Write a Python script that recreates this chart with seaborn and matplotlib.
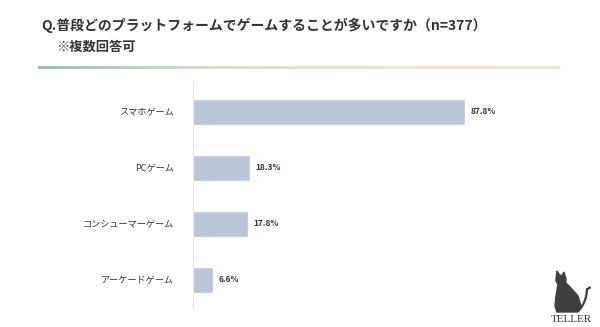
import matplotlib
matplotlib.use("Agg")
import matplotlib.pyplot as plt
import numpy as np
import pandas as pd
import seaborn as sns
from matplotlib.colors import LinearSegmentedColormap
from matplotlib.patches import Polygon, Ellipse

sns.set_theme(style="white")
plt.rcParams['font.family'] = ['Noto Sans CJK JP', 'DejaVu Sans']

categories = ["スマホゲーム", "PCゲーム", "コンシューマーゲーム", "アーケードゲーム"]
values = [87.8, 18.3, 17.8, 6.6]
value_labels = ["87.8%", "18.3%", "17.8%", "6.6%"]
title = "Q.普段どのプラットフォームでゲームすることが多いですか（n=377）"
subtitle = "※複数回答可"

df = pd.DataFrame({"platform": categories, "pct": values})

W, H = 600, 327
fig = plt.figure(figsize=(6, 3.27), dpi=100)
fig.patch.set_facecolor("white")

# overlay axes in pixel coordinates
ov = fig.add_axes([0, 0, 1, 1])
ov.axis("off")

ax = fig.add_axes([193 / W, (H - 308) / H, 310 / W, 224 / H])
sns.barplot(data=df, x="pct", y="platform", orient="h", color="#bac5d7",
            saturation=1, width=0.48, ax=ax)
ax.set_xlim(0, 100)
ax.set_ylim(3.5, -0.5)
ax.set_xlabel("")
ax.set_ylabel("")
ax.set_xticks([])
for s in ["top", "right", "bottom"]:
    ax.spines[s].set_visible(False)
ax.spines["left"].set_color("#e2e2e2")
ax.spines["left"].set_linewidth(0.8)
ax.set_yticks(range(len(categories)))
ax.set_yticklabels(categories, fontsize=6.6, color="#333333")
ax.tick_params(axis="y", which="major", length=0, pad=14)
ax.set_yticks([-0.5, 0.5, 1.5, 2.5, 3.5], minor=True)
ax.tick_params(axis="y", which="minor", length=5, color="#e6e6e6", width=0.8)
ax.set_facecolor("none")

for i, (v, lab) in enumerate(zip(values, value_labels)):
    ax.annotate(lab, xy=(v, i), xytext=(4, 0), textcoords="offset points",
                va="center", ha="left", fontsize=6, color="#333333",
                fontweight="bold")

# titles
ov.text(41, 25, title, fontsize=10, fontweight="bold", color="#333333",
        va="center", ha="left")
ov.text(56, 47, subtitle, fontsize=9.5, fontweight="bold", color="#333333",
        va="center", ha="left")

# gradient line
cmap = LinearSegmentedColormap.from_list(
    "g", ["#9bbcb5", "#c6dbc6", "#eadfcc", "#f6e2cf", "#f8e6d4"])
grad = np.linspace(0, 1, 256).reshape(1, -1)
ov.imshow(grad, cmap=cmap, extent=(38, 560, 69, 66), aspect="auto",
          interpolation="bilinear", zorder=2)

# logo: simple cat silhouette
cat = "#3f3f42"
ov.add_patch(Polygon([[558, 284], [556, 296], [555, 306], [557, 312],
                      [578, 312], [581, 306], [578, 296], [570, 287],
                      [565, 282]], closed=True, color=cat))
ov.add_patch(Ellipse((561, 280), 10, 9, color=cat))
ov.add_patch(Polygon([[556, 279], [557, 271], [561, 277]], closed=True, color=cat))
ov.add_patch(Polygon([[561, 277], [564, 272], [566, 279]], closed=True, color=cat))
t = np.linspace(0, 1, 40)
tx = 578 + 9 * t ** 0.7 + 1.5 * np.sin(t * np.pi)
ty = 311 - 22 * t
ov.plot(tx, ty, color=cat, lw=1.6, solid_capstyle="round")
ov.plot([587.5, 590], [289, 287.5], color=cat, lw=1.6, solid_capstyle="round")
ov.text(571, 320, "TELLER", fontsize=8, family="Liberation Serif",
        color="#333333", ha="center", va="center")

ov.set_xlim(0, W)
ov.set_ylim(H, 0)

fig.savefig("out.png", dpi=100, facecolor="white")
